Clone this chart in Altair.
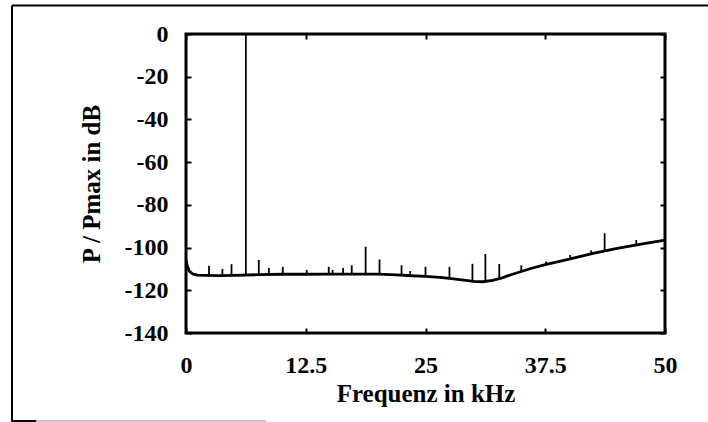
import altair as alt
import pandas as pd

# Noise floor (frequency in kHz, level in dB)
base_f = [0, 0.15, 0.35, 0.7, 1.2, 2, 3.5, 5, 7.5, 10, 12.5, 15, 17.5, 20, 22, 23.5,
          25, 26.5, 27.5, 29, 30, 31, 32, 33, 34, 35, 36, 37.5, 40, 42.5, 45, 47.5, 50]
base_db = [-106, -108.8, -111, -112.4, -112.9, -113, -113.1, -113, -112.7, -112.5, -112.5,
           -112.4, -112.4, -112.4, -112.8, -113.2, -113.5, -114, -114.4, -115.2, -115.8,
           -116, -115.4, -114.2, -112.6, -111.2, -109.8, -108, -105.4, -102.7, -100.4,
           -98.4, -96.5]

# Spectral lines: frequency, foot level, peak level
spike_f = [2.4, 3.8, 4.75, 6.25, 7.6, 8.65, 10.1, 12.6, 14.9, 15.3, 16.4, 17.3, 18.75,
           20.2, 22.5, 23.4, 25, 27.5, 29.9, 31.25, 32.7, 35, 37.6, 40.1, 42.3, 43.7, 47]
spike_base = [-112.9, -113, -113, -113, -112.7, -112.6, -112.5, -112.5, -112.4, -112.4,
              -112.4, -112.4, -112.4, -112.4, -112.8, -113.1, -113.5, -114.4, -115.8, -116,
              -114.6, -111.2, -107.9, -105.3, -102.9, -101.4, -98.7]
spike_top = [-108.5, -110, -107.8, 0, -105.8, -109.5, -109, -110.5, -109, -110.5,
             -109.5, -108.3, -99.6, -105.6, -108.3, -111, -109, -109, -107.6, -103,
             -107.7, -108.3, -106.5, -103.5, -101.3, -93.3, -96.5]

x_ticks = [0, 12.5, 25, 37.5, 50]
y_ticks = [0, -20, -40, -60, -80, -100, -120, -140]

base_df = pd.DataFrame({"f": base_f, "db": base_db})
spike_df = pd.DataFrame({"f": spike_f, "base": spike_base, "top": spike_top})
one = pd.DataFrame({"k": [0]})

FONT = "Liberation Serif"
xscale = alt.Scale(domain=[0, 50], nice=False, zero=False)
yscale = alt.Scale(domain=[-140, 0], nice=False, zero=False)

common = dict(offset=-5, tickSize=5, tickWidth=2, tickColor="black", domain=False,
              grid=False, labelFont=FONT, labelFontSize=24, labelFontWeight="bold",
              labelColor="black", titleFont=FONT, titleFontSize=25,
              titleFontWeight="bold", titleColor="black", labelFlush=False,
              labelOverlap=False, labelExpr="toString(datum.value)")

x_axis = alt.Axis(values=x_ticks, title="Frequenz in kHz", orient="bottom",
                  labelPadding=20, titlePadding=4, **common)
y_axis = alt.Axis(values=y_ticks, title="P / Pmax in dB", orient="left",
                  labelPadding=18, titlePadding=20, **common)

line = alt.Chart(base_df).mark_line(color="black", strokeWidth=2.8).encode(
    x=alt.X("f:Q", scale=xscale, axis=x_axis),
    y=alt.Y("db:Q", scale=yscale, axis=y_axis),
)

spikes = alt.Chart(spike_df).mark_rule(color="black", strokeWidth=1.8).encode(
    x=alt.X("f:Q", scale=xscale, axis=x_axis),
    y=alt.Y("base:Q", scale=yscale, axis=y_axis),
    y2="top:Q",
)

deco = dict(color="black", strokeWidth=2)
top_border = alt.Chart(one).mark_rule(**deco).encode(
    x=alt.value(-174), x2=alt.value(530), y=alt.value(-28.5))
left_border = alt.Chart(one).mark_rule(**deco).encode(
    x=alt.value(-174), y=alt.value(-28.5), y2=alt.value(388))
bottom_border = alt.Chart(one).mark_rule(color="#c8c8c8", strokeWidth=2).encode(
    x=alt.value(-174), x2=alt.value(80), y=alt.value(387))
bottom_dark = alt.Chart(one).mark_rule(color="black", strokeWidth=2).encode(
    x=alt.value(-174), x2=alt.value(-150), y=alt.value(387))

inner = alt.layer(line, spikes, top_border, left_border, bottom_border, bottom_dark)

mirror_common = dict(offset=-5, tickSize=5, tickWidth=2, tickColor="black",
                     domain=False, grid=False, labels=False, title=None)
mirror = alt.Chart(base_df).mark_line(strokeOpacity=0).encode(
    x=alt.X("f:Q", scale=xscale,
            axis=alt.Axis(values=x_ticks, orient="top", **mirror_common)),
    y=alt.Y("db:Q", scale=yscale,
            axis=alt.Axis(values=y_ticks, orient="right", **mirror_common)),
)

chart = alt.layer(inner, mirror).resolve_axis(
    x="independent", y="independent"
).properties(
    width=479, height=299,
    autosize=alt.AutoSizeParams(type="none"),
    padding={"left": 186, "top": 34, "right": 43, "bottom": 89},
    background="white",
).configure_view(stroke="black", strokeWidth=3)

chart.save("out.html", embed_options={"renderer": "svg", "actions": False})
